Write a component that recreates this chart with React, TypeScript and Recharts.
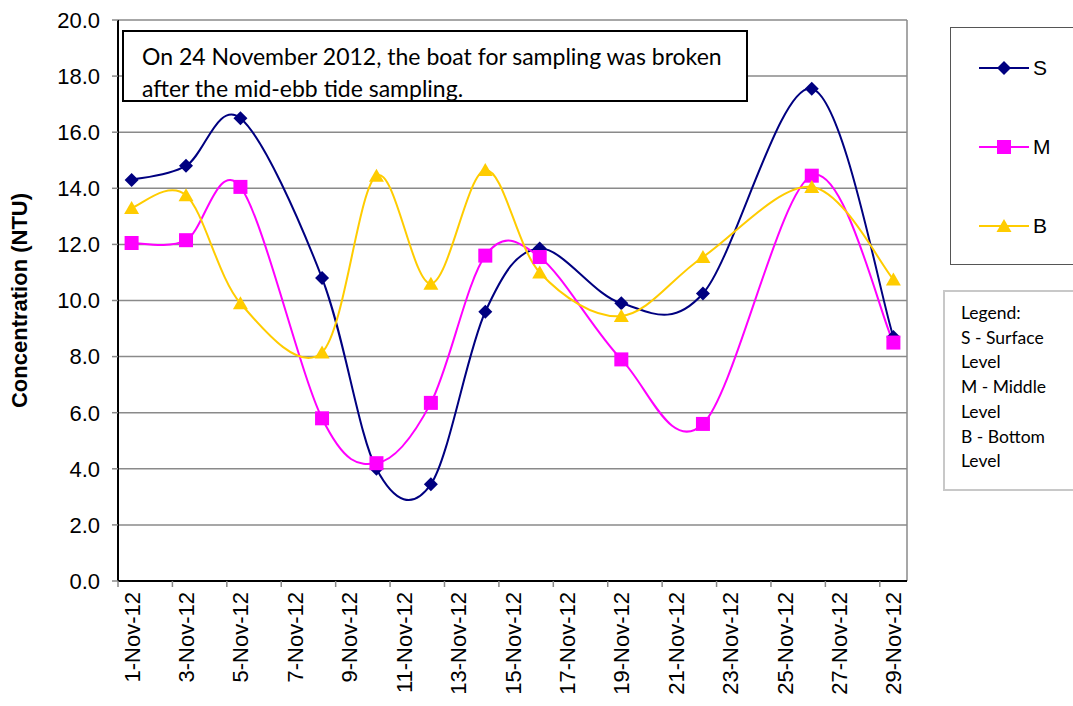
import { LineChart, Line, XAxis, YAxis, CartesianGrid, Legend, ReferenceLine } from 'recharts';

// sampling days in November 2012
const days = [1, 3, 5, 8, 10, 12, 14, 16, 19, 22, 26, 29];
const surface = [14.3, 14.8, 16.5, 10.8, 4.0, 3.45, 9.6, 11.85, 9.9, 10.25, 17.55, 8.7];
const middle = [12.05, 12.15, 14.05, 5.8, 4.2, 6.35, 11.6, 11.55, 7.9, 5.6, 14.45, 8.5];
const bottom = [13.3, 13.75, 9.9, 8.15, 14.45, 10.6, 14.65, 11.0, 9.45, 11.55, 14.05, 10.75];

const xTicks = [1, 3, 5, 7, 9, 11, 13, 15, 17, 19, 21, 23, 25, 27, 29];
const yTicks = [0, 2, 4, 6, 8, 10, 12, 14, 16, 18, 20];

const series = [
  { key: 'S', color: '#000080', marker: 'diamond' },
  { key: 'M', color: '#FF00FF', marker: 'square' },
  { key: 'B', color: '#FFCC00', marker: 'triangle' },
];

const chartData = days.map((day, i) => ({ day, S: surface[i], M: middle[i], B: bottom[i] }));

const W = 1073;
const H = 706;
const margin = { top: 20, right: 166, left: 58, bottom: 20 };
const plotW = W - margin.left - 60 - margin.right;
const dayPx = plotW / 29;
const axisFont = 'Arial, "Liberation Sans", sans-serif';
const textFont = 'Lato, "Open Sans", sans-serif';

// Excel-like smoothed line (Catmull-Rom through the points)
const excelCurve = (context: any) => {
  let pts: [number, number][] = [];
  return {
    areaStart() {},
    areaEnd() {},
    lineStart() {
      pts = [];
    },
    point(x: number, y: number) {
      pts.push([+x, +y]);
    },
    lineEnd() {
      if (!pts.length) return;
      context.moveTo(pts[0][0], pts[0][1]);
      for (let i = 0; i < pts.length - 1; i++) {
        const p0 = pts[Math.max(0, i - 1)];
        const p1 = pts[i];
        const p2 = pts[i + 1];
        const p3 = pts[Math.min(pts.length - 1, i + 2)];
        context.bezierCurveTo(
          p1[0] + (p2[0] - p0[0]) / 6,
          p1[1] + (p2[1] - p0[1]) / 6,
          p2[0] - (p3[0] - p1[0]) / 6,
          p2[1] - (p3[1] - p1[1]) / 6,
          p2[0],
          p2[1]
        );
      }
    },
  };
};

function Marker({ cx, cy, kind, color }: { cx: number; cy: number; kind: string; color: string }) {
  if (kind === 'diamond') {
    return <polygon points={`${cx},${cy - 7} ${cx + 7},${cy} ${cx},${cy + 7} ${cx - 7},${cy}`} fill={color} />;
  }
  if (kind === 'square') {
    return <rect x={cx - 7} y={cy - 7} width={14} height={14} fill={color} />;
  }
  return <polygon points={`${cx},${cy - 7} ${cx + 7.5},${cy + 6} ${cx - 7.5},${cy + 6}`} fill={color} />;
}

function DateTick(props: any) {
  const { x, y, payload } = props;
  return (
    <g>
      <line x1={x - dayPx / 2} y1={y} x2={x - dayPx / 2} y2={y + 6} stroke="#888" strokeWidth={1.5} />
      <text
        x={0}
        y={0}
        transform={`translate(${x + 8},${y + 11}) rotate(-90)`}
        textAnchor="end"
        fontSize={22}
        fontFamily={axisFont}
        fill="#000"
      >
        {`${payload.value}-Nov-12`}
      </text>
    </g>
  );
}

function LegendBox() {
  return (
    <div style={{ position: 'relative', width: 140, height: 236, border: '1.5px solid #555', background: '#fff' }}>
      {series.map((s, i) => (
        <div key={s.key} style={{ position: 'absolute', left: 28, top: 28 + i * 79, display: 'flex', alignItems: 'center' }}>
          <svg width={50} height={18}>
            <line x1={0} y1={9} x2={50} y2={9} stroke={s.color} strokeWidth={2} />
            <Marker cx={25} cy={9} kind={s.marker} color={s.color} />
          </svg>
          <span style={{ fontFamily: axisFont, fontSize: 21, marginLeft: 4, color: '#000' }}>{s.key}</span>
        </div>
      ))}
    </div>
  );
}

export default function App() {
  return (
    <div style={{ position: 'absolute', left: 0, top: 0, width: W, height: H, background: '#fff' }}>
      <LineChart width={W} height={H} data={chartData} margin={margin}>
        <CartesianGrid vertical={false} stroke="#8a8a8a" strokeWidth={1.5} />
        <ReferenceLine x={29.5} stroke="#8a8a8a" strokeWidth={1.5} />
        <XAxis
          type="number"
          dataKey="day"
          domain={[0.5, 29.5]}
          ticks={xTicks}
          interval={0}
          allowDataOverflow
          height={105}
          tickSize={0}
          tickMargin={0}
          tickLine={false}
          axisLine={{ stroke: '#000', strokeWidth: 2 }}
          tick={<DateTick />}
        />
        <YAxis
          type="number"
          domain={[0, 20]}
          ticks={yTicks}
          interval={0}
          width={60}
          tickSize={6}
          tickMargin={12}
          tickLine={{ stroke: '#888', strokeWidth: 1.5 }}
          axisLine={{ stroke: '#000', strokeWidth: 2 }}
          tickFormatter={(v: number) => v.toFixed(1)}
          tick={{ fill: '#000', fontSize: 22, fontFamily: axisFont }}
          label={{
            value: 'Concentration (NTU)',
            angle: -90,
            position: 'insideLeft',
            offset: -39,
            style: { fontFamily: axisFont, fontSize: 22, fontWeight: 'bold', fill: '#000', textAnchor: 'middle' },
          }}
        />
        <Legend
          layout="horizontal"
          verticalAlign="middle"
          align="center"
          wrapperStyle={{ left: 950, top: 27, width: 142, height: 238 }}
          content={() => <LegendBox />}
        />
        {series.map((s) => (
          <Line
            key={s.key}
            dataKey={s.key}
            name={s.key}
            type={excelCurve as any}
            stroke={s.color}
            strokeWidth={2}
            dot={(p: any) => <Marker key={`${s.key}-${p.index}`} cx={p.cx} cy={p.cy} kind={s.marker} color={s.color} />}
            activeDot={false}
            isAnimationActive={false}
          />
        ))}
      </LineChart>
      <div
        style={{
          position: 'absolute',
          left: 122,
          top: 30,
          width: 626,
          height: 72,
          border: '2px solid #000',
          background: '#fff',
          fontFamily: textFont,
          fontSize: 23,
          lineHeight: '32px',
          padding: '8px 0 0 18px',
          boxSizing: 'border-box',
          color: '#000',
        }}
      >
        On 24 November 2012, the boat for sampling was broken
        <br />
        after the mid-ebb tide sampling.
      </div>
      <div
        style={{
          position: 'absolute',
          left: 943,
          top: 290,
          width: 140,
          height: 201,
          border: '2px solid #c8c8c8',
          background: '#fff',
          fontFamily: textFont,
          fontSize: 17.5,
          lineHeight: '24.7px',
          padding: '9px 0 0 16px',
          boxSizing: 'border-box',
          color: '#000',
        }}
      >
        Legend:
        <br />S - Surface
        <br />Level
        <br />M - Middle
        <br />Level
        <br />B - Bottom
        <br />Level
      </div>
    </div>
  );
}
